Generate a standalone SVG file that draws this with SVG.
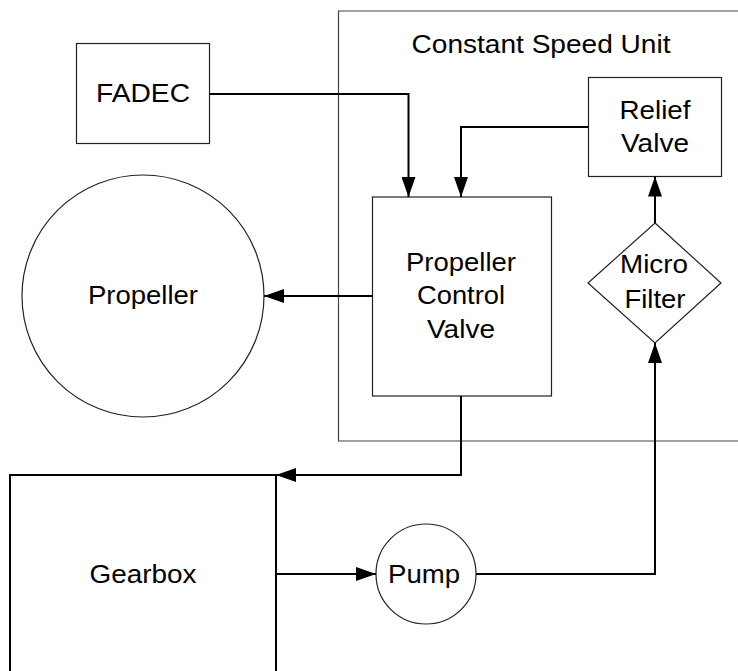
<svg xmlns="http://www.w3.org/2000/svg" width="738" height="671" viewBox="0 0 738 671">
<style>
.shape{fill:#fff;stroke:#222;stroke-width:1.2}
.frame{fill:none;stroke:#444;stroke-width:1.2}
.gb{fill:#fff;stroke:#000;stroke-width:2}
.conn{fill:none;stroke:#000;stroke-width:2}
text{font-family:"Liberation Sans",Arial,sans-serif;font-size:25px;fill:#000;text-anchor:middle}
</style>
<defs>
<marker id="arr" markerUnits="userSpaceOnUse" markerWidth="20" markerHeight="14" refX="20" refY="7" orient="auto">
<path d="M0,0 L20,7 L0,14 Z" fill="#000"/>
</marker>
</defs>
<rect width="738" height="671" fill="#fff"/>
<g id="csu">
<path class="frame" d="M740,441 L338.5,441 L338.5,11 L740,11"/>
<text x="541" y="53" textLength="259" lengthAdjust="spacingAndGlyphs">Constant Speed Unit</text>
</g>
<g id="fadec">
<rect class="shape" x="76.5" y="43.5" width="133" height="100"/>
<text x="143" y="102" textLength="94" lengthAdjust="spacingAndGlyphs">FADEC</text>
</g>
<g id="relief">
<rect class="shape" x="588.5" y="77.5" width="133" height="99"/>
<text x="655" y="119" textLength="71" lengthAdjust="spacingAndGlyphs">Relief</text>
<text x="655" y="152" textLength="68" lengthAdjust="spacingAndGlyphs">Valve</text>
</g>
<g id="pcv">
<rect class="shape" x="372.5" y="197" width="179" height="199"/>
<text x="461" y="271" textLength="110" lengthAdjust="spacingAndGlyphs">Propeller</text>
<text x="461" y="304" textLength="88" lengthAdjust="spacingAndGlyphs">Control</text>
<text x="461" y="338" textLength="68" lengthAdjust="spacingAndGlyphs">Valve</text>
</g>
<g id="filter">
<path class="shape" d="M655,223 L721,283 L655,343 L588,283 Z"/>
<text x="654" y="273" textLength="68" lengthAdjust="spacingAndGlyphs">Micro</text>
<text x="655" y="308" textLength="61" lengthAdjust="spacingAndGlyphs">Filter</text>
</g>
<g id="propeller">
<ellipse class="shape" cx="143" cy="296" rx="121" ry="121"/>
<text x="143" y="304" textLength="110" lengthAdjust="spacingAndGlyphs">Propeller</text>
</g>
<g id="gearbox">
<path class="gb" d="M10,680 L10,475 L276,475 L276,680"/>
<text x="143" y="583" textLength="107" lengthAdjust="spacingAndGlyphs">Gearbox</text>
</g>
<g id="pump">
<ellipse class="shape" cx="426" cy="574" rx="50" ry="50"/>
<text x="424" y="583" textLength="72" lengthAdjust="spacingAndGlyphs">Pump</text>
</g>
<g id="connectors">
<path class="conn" d="M209.5,94 L408.5,94 L408.5,197" marker-end="url(#arr)"/>
<path class="conn" d="M588.5,127 L461,127 L461,197" marker-end="url(#arr)"/>
<path class="conn" d="M655,223 L655,176.5" marker-end="url(#arr)"/>
<path class="conn" d="M372.5,296 L264,296" marker-end="url(#arr)"/>
<path class="conn" d="M461,396 L461,475 L276,475" marker-end="url(#arr)"/>
<path class="conn" d="M276,574 L376,574" marker-end="url(#arr)"/>
<path class="conn" d="M476,574 L655,574 L655,343" marker-end="url(#arr)"/>
</g>
</svg>
